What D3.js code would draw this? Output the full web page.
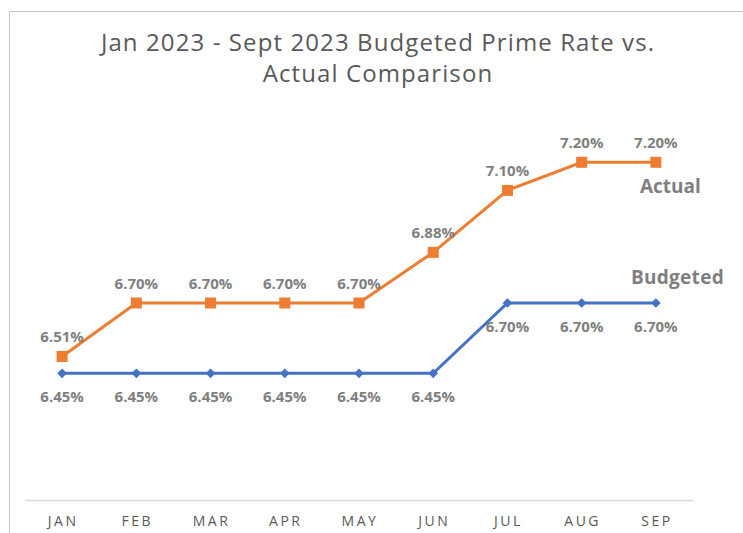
<!DOCTYPE html>
<html>
<head>
<meta charset="utf-8">
<script src="https://cdn.jsdelivr.net/npm/d3@7"></script>
<style>
  body { margin: 0; background: #fff; }
  text { font-family: "Open Sans", sans-serif; }
</style>
</head>
<body>
<svg id="chart" width="743" height="533"></svg>
<script>
var months = ["JAN", "FEB", "MAR", "APR", "MAY", "JUN", "JUL", "AUG", "SEP"];
var actual = [6.51, 6.70, 6.70, 6.70, 6.70, 6.88, 7.10, 7.20, 7.20];
var budgeted = [6.45, 6.45, 6.45, 6.45, 6.45, 6.45, 6.70, 6.70, 6.70];
var titleLines = ["Jan 2023 - Sept 2023 Budgeted Prime Rate vs.", "Actual Comparison"];

var svg = d3.select("#chart");

// chart area border (runs off the right and bottom)
svg.append("rect")
    .attr("x", 9.5).attr("y", 11.5)
    .attr("width", 760).attr("height", 560)
    .attr("fill", "none")
    .attr("stroke", "#c8c8c8")
    .attr("stroke-width", 1);

var x = d3.scaleBand().domain(months).range([25, 693]);
var y = d3.scaleLinear().domain([6.0, 7.4]).range([500, 106]);
var cx = function (d, i) { return x(months[i]) + x.bandwidth() / 2; };

// title
svg.append("text")
    .attr("x", 378).attr("y", 51)
    .attr("text-anchor", "middle")
    .attr("fill", "#595959")
    .style("font-size", "24px")
    .style("letter-spacing", "1.1px")
    .selectAll("tspan")
    .data(titleLines)
    .enter().append("tspan")
    .attr("x", 378)
    .attr("dy", function (d, i) { return i ? 31 : 0; })
    .text(function (d) { return d; });

// x axis
var xAxis = d3.axisBottom(x).tickSize(0).tickPadding(16);
var gx = svg.append("g")
    .attr("transform", "translate(0,500)")
    .call(xAxis);
gx.select(".domain").attr("stroke", "#d9d9d9").attr("stroke-width", 1.5);
gx.selectAll("text")
    .attr("fill", "#595959")
    .attr("dx", "1px")
    .style("font-size", "14px")
    .style("letter-spacing", "2.5px")
    .style("font-family", "Open Sans, sans-serif");

var line = d3.line().x(cx).y(function (d) { return y(d); });

// budgeted series
svg.append("path")
    .datum(budgeted)
    .attr("d", line)
    .attr("fill", "none")
    .attr("stroke", "#4472C4")
    .attr("stroke-width", 3);
svg.selectAll(".bmark")
    .data(budgeted)
    .enter().append("path")
    .attr("class", "bmark")
    .attr("d", d3.symbol().type(d3.symbolDiamond2).size(60))
    .attr("transform", function (d, i) { return "translate(" + cx(d, i) + "," + y(d) + ")"; })
    .attr("fill", "#4472C4");

// actual series
svg.append("path")
    .datum(actual)
    .attr("d", line)
    .attr("fill", "none")
    .attr("stroke", "#ED7D31")
    .attr("stroke-width", 3);
svg.selectAll(".amark")
    .data(actual)
    .enter().append("rect")
    .attr("class", "amark")
    .attr("x", function (d, i) { return cx(d, i) - 5.5; })
    .attr("y", function (d) { return y(d) - 5.5; })
    .attr("width", 11).attr("height", 11)
    .attr("fill", "#ED7D31");

// data labels
function fmt(d) { return d.toFixed(2) + "%"; }
svg.selectAll(".alabel")
    .data(actual)
    .enter().append("text")
    .attr("x", cx)
    .attr("y", function (d) { return y(d) - 14; })
    .attr("text-anchor", "middle")
    .attr("fill", "#7f7f7f")
    .style("font-size", "15px")
    .style("font-weight", "bold")
    .text(fmt);
svg.selectAll(".blabel")
    .data(budgeted)
    .enter().append("text")
    .attr("x", cx)
    .attr("y", function (d) { return y(d) + 29; })
    .attr("text-anchor", "middle")
    .attr("fill", "#7f7f7f")
    .style("font-size", "15px")
    .style("font-weight", "bold")
    .text(fmt);

// series names next to the last points
var last = months.length - 1;
svg.append("text")
    .attr("x", cx(actual[last], last) - 16)
    .attr("y", y(actual[last]) + 31)
    .attr("fill", "#7f7f7f")
    .style("font-size", "19px")
    .style("font-weight", "bold")
    .text("Actual");
svg.append("text")
    .attr("x", cx(budgeted[last], last) - 25)
    .attr("y", y(budgeted[last]) - 19)
    .attr("fill", "#7f7f7f")
    .style("font-size", "19px")
    .style("font-weight", "bold")
    .style("letter-spacing", "0.3px")
    .text("Budgeted");
</script>
</body>
</html>
